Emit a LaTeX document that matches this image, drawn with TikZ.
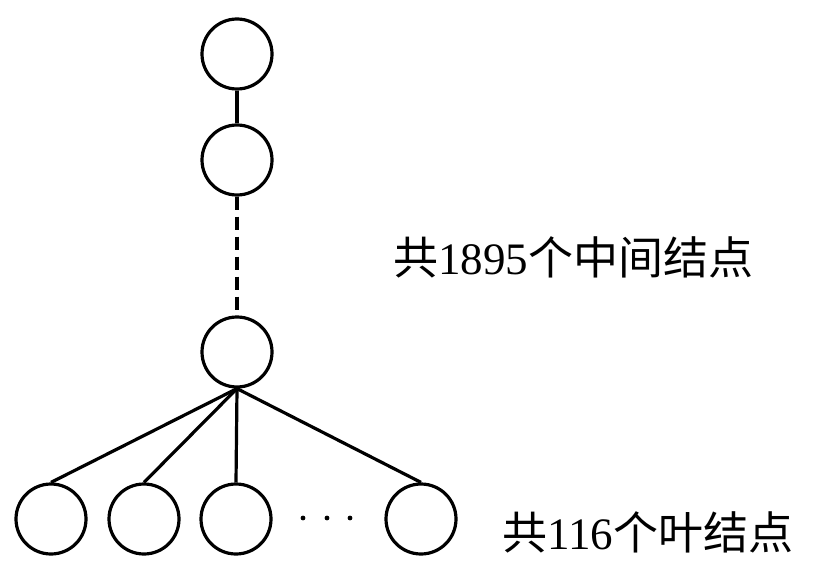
\documentclass[tikz,border=0pt]{standalone}
\usepackage{fontspec}
\setmainfont{Liberation Serif}
\newfontfamily\cjk{Noto Sans CJK SC}
\begin{document}
\begin{tikzpicture}[x=1pt,y=-1pt,
  nd/.style={draw,circle,line width=3.2pt,minimum size=70pt,inner sep=0pt},
  edge/.style={line width=3.2pt},
  lbl/.style={font=\fontsize{45}{50}\selectfont,anchor=west,inner sep=0pt}]
\useasboundingbox (0,0) rectangle (832,588);
\node[nd] (a) at (237,54) {};
\node[nd] (b) at (237,160) {};
\node[nd] (c) at (237,352) {};
\node[nd] (l1) at (51,519) {};
\node[nd] (l2) at (144,519) {};
\node[nd] (l3) at (236,519) {};
\node[nd] (l4) at (421,519) {};
\draw[edge] (a) -- (b);
\draw[edge,dash pattern=on 13pt off 7pt] (b) -- (c);
\foreach \l in {l1,l2,l3,l4} \draw[edge] (c.south) -- (\l.north);
\foreach \x [count=\i] in {303,327,350} \fill (\x,518) circle (2.4pt) coordinate (d\i);
\node[lbl] (t1) at (393,257) {{\cjk 共}1895{\cjk 个中间结点}};
\node[lbl] (t2) at (502,532) {{\cjk 共}116{\cjk 个叶结点}};
\end{tikzpicture}
\end{document}
